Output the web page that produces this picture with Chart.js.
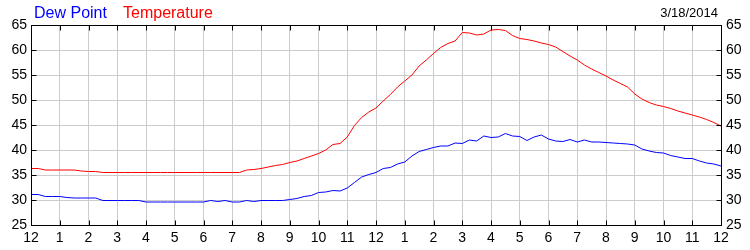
<!DOCTYPE html>
<html>
<head>
<meta charset="utf-8">
<script src="https://cdn.jsdelivr.net/npm/chart.js@4/dist/chart.umd.min.js"></script>
<style>
  html, body { margin: 0; padding: 0; background: #fff; }
  #wrap { width: 750px; height: 250px; position: relative; }
</style>
</head>
<body>
<div id="wrap"><canvas id="weather-chart"></canvas></div>
<script>
// readings every 15 minutes, midnight to midnight
const temperature = [
  36.3, 36.3, 36.0, 36.0, 36.0, 36.0, 36.0, 35.8, 35.7, 35.7,
  35.5, 35.5, 35.5, 35.5, 35.5, 35.5, 35.5, 35.5, 35.5, 35.5,
  35.5, 35.5, 35.5, 35.5, 35.5, 35.5, 35.5, 35.5, 35.5, 35.5,
  36.0, 36.1, 36.3, 36.6, 36.9, 37.1, 37.5, 37.8, 38.3, 38.8,
  39.3, 40.0, 41.1, 41.3, 42.6, 44.9, 46.5, 47.6, 48.4, 49.8,
  51.1, 52.6, 53.8, 55.0, 56.8, 58.0, 59.3, 60.5, 61.3, 61.8,
  63.5, 63.4, 63.0, 63.2, 64.0, 64.1, 63.9, 62.9, 62.3, 62.1,
  61.8, 61.4, 61.1, 60.6, 59.7, 58.8, 58.0, 57.0, 56.2, 55.5,
  54.8, 54.0, 53.3, 52.6, 51.2, 50.2, 49.5, 49.0, 48.7, 48.3,
  47.8, 47.4, 47.0, 46.6, 46.1, 45.5, 44.8
]
const dewPoint = [
  31.1, 31.1, 30.7, 30.7, 30.7, 30.5, 30.4, 30.4, 30.4, 30.4,
  29.9, 29.9, 29.9, 29.9, 29.9, 29.9, 29.6, 29.6, 29.6, 29.6,
  29.6, 29.6, 29.6, 29.6, 29.6, 29.9, 29.7, 29.9, 29.6, 29.6,
  29.9, 29.7, 29.9, 29.9, 29.9, 29.9, 30.1, 30.3, 30.7, 30.9,
  31.5, 31.6, 31.9, 31.8, 32.4, 33.5, 34.6, 35.1, 35.5, 36.3,
  36.5, 37.2, 37.6, 38.8, 39.7, 40.1, 40.5, 40.8, 40.8, 41.4,
  41.3, 42.0, 41.8, 42.8, 42.5, 42.6, 43.3, 42.8, 42.7, 41.9,
  42.6, 43.0, 42.2, 41.8, 41.7, 42.1, 41.6, 42.0, 41.6, 41.6,
  41.5, 41.4, 41.3, 41.2, 41.0, 40.2, 39.8, 39.5, 39.4, 38.9,
  38.6, 38.3, 38.3, 37.8, 37.4, 37.2, 36.8
]
const hourLabels = ['12','1','2','3','4','5','6','7','8','9','10','11',
                    '12','1','2','3','4','5','6','7','8','9','10','11','12']
const yTicks = [25, 30, 35, 40, 45, 50, 55, 60, 65]
const dateText = '3/18/2014'

const hours = temperature.map((v, i) => i / 4)
const pts = arr => arr.map((v, i) => ({ x: hours[i], y: v }))

const FONT = '"Liberation Sans", Arial, sans-serif'
const GRID = '#cccccc'

// frame, inward tick marks, legend + date text
const framePlugin = {
  id: 'frame',
  afterDatasetsDraw(chart) {
    const ctx = chart.ctx
    const a = chart.chartArea
    const xs = chart.scales.x, ys = chart.scales.y
    const L = Math.round(a.left) + 0.5, R = Math.round(a.right) + 0.5
    const T = Math.round(a.top) + 0.5, B = Math.round(a.bottom) + 0.5
    ctx.save()
    ctx.strokeStyle = '#000'
    ctx.lineWidth = 1
    ctx.beginPath()
    hourLabels.forEach((lbl, i) => {
      const px = Math.round(xs.getPixelForValue(i)) + 0.5
      ctx.moveTo(px, B); ctx.lineTo(px, B - 5)
      ctx.moveTo(px, T); ctx.lineTo(px, T + 5)
    })
    yTicks.forEach(v => {
      const py = Math.round(ys.getPixelForValue(v)) + 0.5
      ctx.moveTo(L, py); ctx.lineTo(L + 5, py)
      ctx.moveTo(R, py); ctx.lineTo(R - 5, py)
    })
    ctx.stroke()
    ctx.strokeRect(L, T, R - L, B - T)

    ctx.font = '16px ' + FONT
    ctx.textBaseline = 'alphabetic'
    ctx.textAlign = 'left'
    ctx.fillStyle = '#0000ff'
    ctx.fillText(chart.data.datasets[0].label, 34, 18)
    ctx.fillStyle = '#ff0000'
    ctx.fillText(chart.data.datasets[1].label, 123, 18)
    ctx.font = '13px ' + FONT
    ctx.fillStyle = '#000'
    ctx.textAlign = 'right'
    ctx.fillText(dateText, 718, 17)
    ctx.restore()
  }
}

new Chart(document.getElementById('weather-chart'), {
  type: 'line',
  data: {
    datasets: [
      {
        label: 'Dew Point',
        data: pts(dewPoint),
        borderColor: '#0000ff',
        borderWidth: 1,
        pointRadius: 0,
        tension: 0
      },
      {
        label: 'Temperature',
        data: pts(temperature),
        borderColor: '#ff0000',
        borderWidth: 1,
        pointRadius: 0,
        tension: 0
      }
    ]
  },
  options: {
    responsive: true,
    maintainAspectRatio: false,
    animation: false,
    layout: { padding: { top: 25, left: 0, right: 0, bottom: 0 } },
    plugins: {
      legend: { display: false },
      tooltip: { enabled: false }
    },
    scales: {
      x: {
        type: 'linear',
        min: 0,
        max: 24,
        afterFit: s => { s.height = 25 },
        afterBuildTicks: s => { s.ticks = hourLabels.map((l, i) => ({ value: i })) },
        grid: { color: GRID, drawTicks: false },
        border: { display: false },
        ticks: {
          autoSkip: false,
          maxRotation: 0,
          padding: 5,
          color: '#000',
          font: { family: FONT, size: 14 },
          callback: v => hourLabels[v]
        }
      },
      y: {
        position: 'left',
        min: 25,
        max: 65,
        afterFit: s => { s.width = 31 },
        grid: { color: GRID, drawTicks: false },
        border: { display: false },
        ticks: {
          stepSize: 5,
          padding: 4,
          color: '#000',
          font: { family: FONT, size: 14 }
        }
      },
      y2: {
        position: 'right',
        min: 25,
        max: 65,
        afterFit: s => { s.width = 29 },
        grid: { display: false, drawTicks: false },
        border: { display: false },
        ticks: {
          stepSize: 5,
          padding: 5,
          color: '#000',
          font: { family: FONT, size: 14 }
        }
      }
    }
  },
  plugins: [framePlugin]
})
</script>
</body>
</html>
